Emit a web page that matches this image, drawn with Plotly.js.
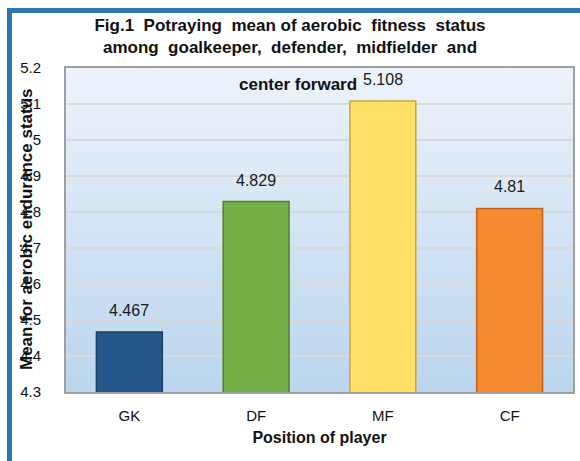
<!DOCTYPE html>
<html>
<head>
<meta charset="utf-8">
<script src="https://cdn.plot.ly/plotly-3.0.1.min.js"></script>
<style>html,body{margin:0;padding:0;background:#fff;}#chart{width:580px;height:461px;}</style>
</head>
<body>
<div id="chart"></div>
<script>
var categories = ["GK", "DF", "MF", "CF"];
var meanValues = [4.467, 4.829, 5.108, 4.81];
var valueLabels = ["4.467", "4.829", "5.108", "4.81"];
var yTickValues = [4.3, 4.4, 4.5, 4.6, 4.7, 4.8, 4.9, 5, 5.1, 5.2];
var yTickLabels = ["4.3", "4.4", "4.5", "4.6", "4.7", "4.8", "4.9", "5", "5.1", "5.2"];
var barColors = ["#25578B", "#74AF47", "#FFE066", "#F5892F"];
var barEdgeColors = ["#1A3F66", "#557F34", "#C9A448", "#C0621E"];

var W = 580, H = 461;
var M = {l: 66, r: 7, t: 68, b: 69};
var pw = W - M.l - M.r, ph = H - M.t - M.b;
function px(x) { return (x - M.l) / pw; }
function py(y) { return (H - M.b - y) / ph; }

var bgSvg = '<svg xmlns="http://www.w3.org/2000/svg" width="100" height="100" preserveAspectRatio="none">' +
  '<defs><linearGradient id="g" x1="0" y1="0" x2="0" y2="1">' +
  '<stop offset="0" stop-color="#EDF3FB"/><stop offset="1" stop-color="#BAD5EE"/></linearGradient></defs>' +
  '<rect width="100" height="100" fill="url(#g)"/></svg>';

var trace = {
  type: "bar",
  x: categories,
  y: meanValues,
  marker: {color: barColors, line: {color: barEdgeColors, width: 1.5}},
  hoverinfo: "x+y"
};

var font = "Liberation Sans, Arial, sans-serif";

var annotations = categories.map(function (c, i) {
  return {
    x: c, y: meanValues[i], xref: "x", yref: "y",
    text: valueLabels[i], showarrow: false,
    yanchor: "bottom", yshift: 11,
    font: {family: font, size: 16, color: "#1a1a1a"}
  };
});
annotations.push({
  xref: "paper", yref: "paper", x: px(298), y: py(84),
  xanchor: "center", yanchor: "middle",
  text: "<b>center forward</b>", showarrow: false,
  font: {family: font, size: 17, color: "#111"}
});
annotations.push({
  xref: "paper", yref: "paper", x: px(26), y: py(229),
  xanchor: "center", yanchor: "middle", textangle: -90,
  text: "<b>Mean for aerobic endurance status</b>", showarrow: false,
  font: {family: font, size: 17, color: "#111"}
});

var layout = {
  width: W, height: H,
  margin: M,
  paper_bgcolor: "#ffffff",
  plot_bgcolor: "rgba(0,0,0,0)",
  showlegend: false,
  bargap: 0.48,
  title: {
    text: "<b>Fig.1  Potraying  mean of aerobic  fitness  status</b><br><b>among  goalkeeper,  defender,  midfielder  and</b>",
    x: 0.5, xref: "container", xanchor: "center",
    y: 1 - 31 / H, yref: "container", yanchor: "top",
    font: {family: font, size: 17, color: "#111"}
  },
  xaxis: {
    type: "category",
    showgrid: false,
    showline: true, mirror: true, linecolor: "#A0A0A0", linewidth: 2,
    ticks: "", ticklabelstandoff: 9,
    tickfont: {family: font, size: 15, color: "#111"},
    title: {text: "<b>Position of player</b>", standoff: 9, font: {family: font, size: 16, color: "#111"}},
    fixedrange: true
  },
  yaxis: {
    range: [4.3, 5.2],
    tickvals: yTickValues, ticktext: yTickLabels,
    showgrid: true, gridcolor: "#D9D9D9", gridwidth: 2,
    showline: true, mirror: true, linecolor: "#A0A0A0", linewidth: 2,
    zeroline: false,
    ticks: "", ticklabelstandoff: 20,
    tickfont: {family: font, size: 15, color: "#111"},
    fixedrange: true
  },
  images: [{
    source: "data:image/svg+xml;charset=utf-8," + encodeURIComponent(bgSvg),
    xref: "paper", yref: "paper", x: 0, y: 1, sizex: 1, sizey: 1,
    sizing: "stretch", layer: "below", xanchor: "left", yanchor: "top"
  }],
  shapes: [
    {type: "line", xref: "paper", yref: "paper", x0: px(9.5), x1: px(9.5), y0: py(8), y1: py(470),
     line: {color: "#2E75B6", width: 5}},
    {type: "line", xref: "paper", yref: "paper", x0: px(7), x1: px(590), y0: py(10.5), y1: py(10.5),
     line: {color: "#2E75B6", width: 5}}
  ],
  annotations: annotations
};

Plotly.newPlot("chart", [trace], layout, {displayModeBar: false, staticPlot: true});
</script>
</body>
</html>
